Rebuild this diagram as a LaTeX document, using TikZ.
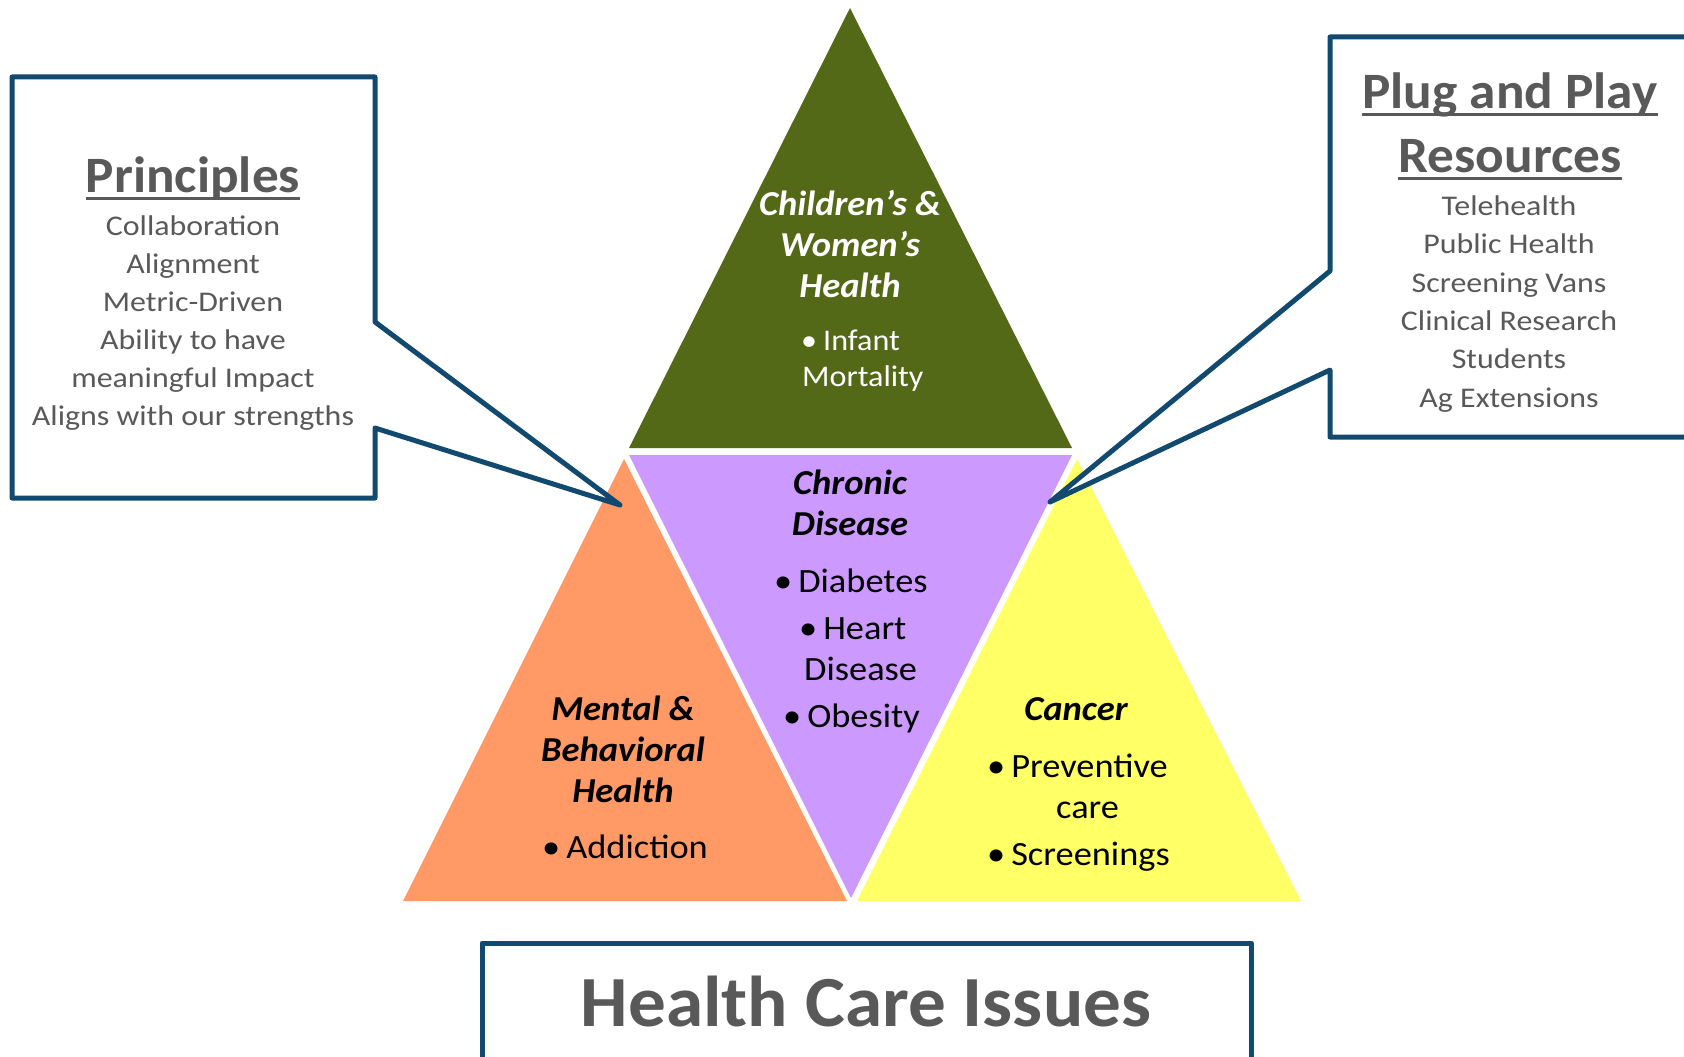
\documentclass[tikz,border=0pt]{standalone}
\usepackage{fontspec}
\setmainfont{Carlito}
\newfontfamily\fbody[FakeStretch=1.12]{Carlito}
\newfontfamily\fbul[FakeStretch=1.07]{Carlito}
\newfontfamily\fbold[FakeStretch=1.045]{Carlito}
\usetikzlibrary{calc}
\definecolor{cgreen}{RGB}{84,105,23}
\definecolor{cpurple}{RGB}{204,153,255}
\definecolor{corange}{RGB}{255,153,102}
\definecolor{cyellow}{RGB}{255,255,102}
\definecolor{cblue}{RGB}{18,73,110}
\definecolor{cgray}{RGB}{89,89,89}
\begin{document}
\begin{tikzpicture}[x=1pt,y=-1pt,
  callout/.style={draw=cblue,line width=5pt,fill=white,line join=round,line cap=round},
  body/.style={inner sep=0pt,anchor=base,text=cgray,font=\fbody\fontsize{28.5}{34}\selectfont},
  ttl/.style={inner sep=0pt,anchor=base,text=cgray,font=\fbold\bfseries\fontsize{51}{60}\selectfont},
  uline/.style={draw=cgray,line width=3pt},
  tri/.style={inner sep=0pt,anchor=base,font=\fbold\bfseries\itshape\fontsize{35}{40}\selectfont},
  bul/.style={inner sep=0pt,anchor=base west,font=\fbul\fontsize{34}{40}\selectfont},
  bulg/.style={inner sep=0pt,anchor=base west,text=white,font=\fbul\fontsize{30}{36}\selectfont},
  big/.style={inner sep=0pt,anchor=base,text=cgray,font=\fbold\bfseries\fontsize{72}{80}\selectfont}]
\clip (0,0) rectangle (1684,1057);
\fill[white] (0,0) rectangle (1684,1057);
% triangles
\fill[cgreen] (850,8) -- (1072,448) -- (629,448) -- cycle;
\fill[cpurple] (629,455) -- (1072,455) -- (851,898) -- cycle;
\fill[corange] (624,459) -- (847,901) -- (403,901) -- cycle;
\fill[cyellow] (1077,459) -- (1301,901) -- (857,901) -- cycle;
% callouts
\coordinate (tipL) at (620,505);
\coordinate (tipR) at (1050,502);
\draw[callout] (12,77) -- (375,77) -- (375,322) -- (tipL) -- (375,428) -- (375,498) -- (12,498) -- cycle;
\draw[callout] (1330,37) -- (1700,37) -- (1700,437) -- (1330,437) -- (1330,370) -- (tipR) -- (1330,271) -- cycle;
\draw[callout] (482,943) -- (1251,943) -- (1251,1080) -- (482,1080) -- cycle;
% Principles
\node[ttl] (pT) at (193,192) {Principles};
\draw[uline] ($(pT.base west)+(0,6)$) -- ($(pT.base east)+(0,6)$);
\node[body] (p1) at (193,235) {Collaboration};
\node[body] (p2) at (193,273) {Alignment};
\node[body] (p3) at (193,311) {Metric-Driven};
\node[body] (p4) at (193,349) {Ability to have};
\node[body] (p5) at (193,387) {meaningful Impact};
\node[body] (p6) at (193,425) {Aligns with our strengths};
% Plug and Play
\node[ttl] (rT1) at (1510,108) {Plug and Play};
\draw[uline] ($(rT1.base west)+(0,6)$) -- ($(rT1.base east)+(0,6)$);
\node[ttl] (rT2) at (1510,172) {Resources};
\draw[uline] ($(rT2.base west)+(0,6)$) -- ($(rT2.base east)+(0,6)$);
\node[body] (r1) at (1509,215) {Telehealth};
\node[body] (r2) at (1509,253) {Public Health};
\node[body] (r3) at (1509,292) {Screening Vans};
\node[body] (r4) at (1509,330) {Clinical Research};
\node[body] (r5) at (1509,368) {Students};
\node[body] (r6) at (1509,407) {Ag Extensions};
% Green
\node[tri,text=white] (g1) at (850,215) {Children’s \&};
\node[tri,text=white] (g2) at (850,256) {Women’s};
\node[tri,text=white] (g3) at (850,297) {Health};
\node[bulg] (g4) at (801,350) {•\hspace{6pt}Infant};
\node[bulg] (g5) at (802,386) {Mortality};
% Purple
\node[tri] (c1) at (850,494) {Chronic};
\node[tri] (c2) at (850,535) {Disease};
\node[bul] (c3) at (774,592) {•\hspace{6pt}Diabetes};
\node[bul] (c4) at (799,639) {•\hspace{6pt}Heart};
\node[bul] (c5) at (804,680) {Disease};
\node[bul] (c6) at (783,727) {•\hspace{6pt}Obesity};
% Orange
\node[tri] (m1) at (623,720) {Mental \&};
\node[tri] (m2) at (623,761) {Behavioral};
\node[tri] (m3) at (623,802) {Health};
\node[bul] (m4) at (542,858) {•\hspace{6pt}Addiction};
% Yellow
\node[tri] (y1) at (1076,720) {Cancer};
\node[bul] (y2) at (987,777) {•\hspace{6pt}Preventive};
\node[bul] (y3) at (1056,818) {care};
\node[bul] (y4) at (987,865) {•\hspace{6pt}Screenings};
% Bottom
\node[big] (h) at (866,1026) {Health Care Issues};
\end{tikzpicture}
\end{document}
